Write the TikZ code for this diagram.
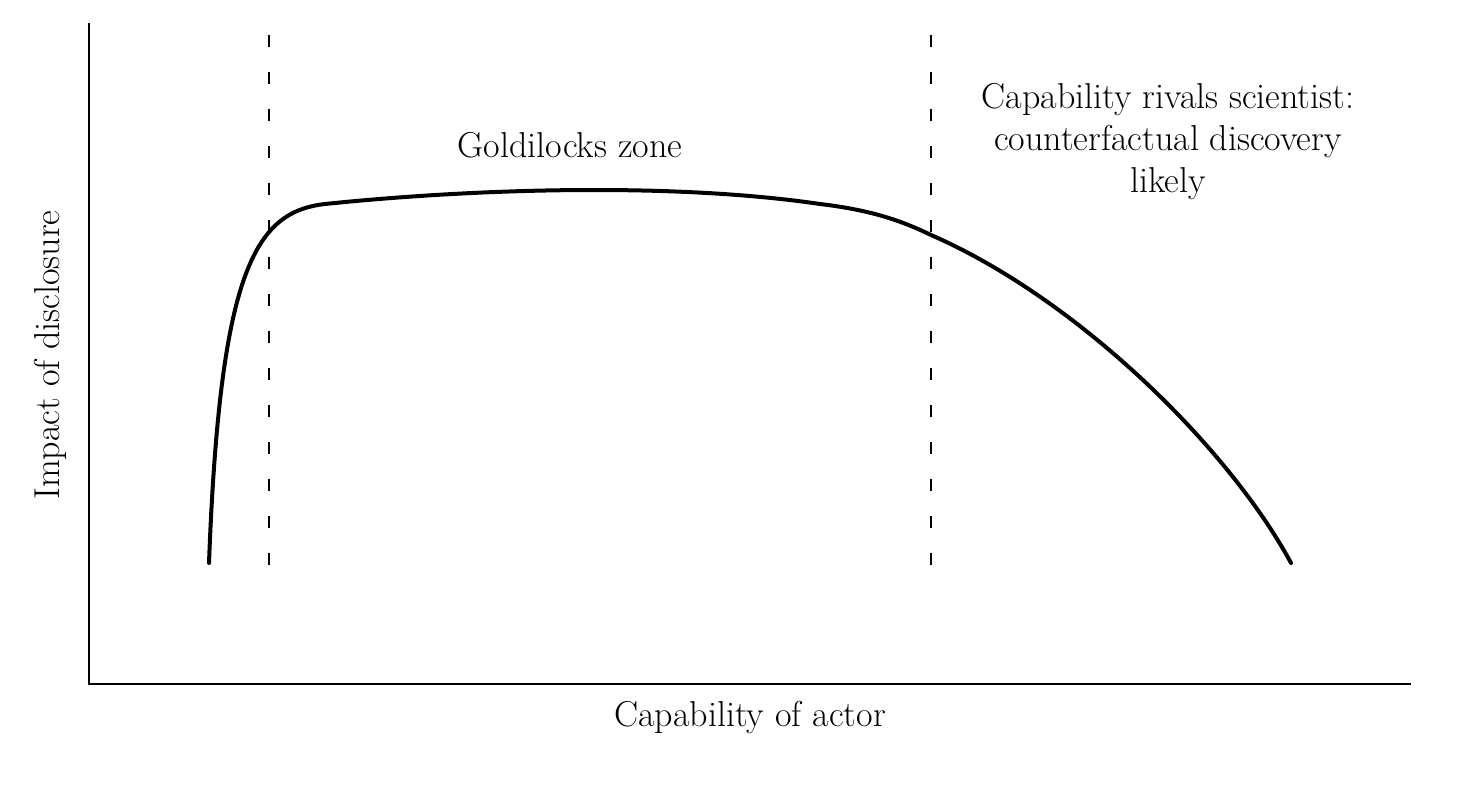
\documentclass[tikz,border=0pt]{standalone}
\usetikzlibrary{positioning}
\tikzset{
  axis/.style={line width=1pt},
  zone/.style={line width=0.9pt, dash pattern=on 6pt off 12.5pt},
  impact/.style={line width=2pt, line cap=round},
  lbl/.style={font=\fontsize{18}{21}\selectfont, align=center}
}

\begin{document}
\begin{tikzpicture}[x=0.5pt, y=-0.5pt]
\useasboundingbox (0,0) rectangle (1470,786);
\coordinate (O) at (89,684);
\coordinate (ytop) at (89,23);
\coordinate (xend) at (1411,684);
\coordinate (lo1) at (269,35);
\coordinate (lo2) at (269,588);
\coordinate (hi1) at (931,35);
\coordinate (hi2) at (931,588);

\path [draw, axis] (ytop) -- (O) -- (xend);
\path [draw, zone] (lo1) -- (lo2);
\path [draw, zone] (hi1) -- (hi2);

\coordinate (start) at (209,563);
\coordinate (flatL) at (325,204);
\coordinate (flatR) at (820,204);
\coordinate (drop) at (931,235);
\coordinate (end) at (1291,563);
\path [draw, impact] (start) .. controls (220,270) and (255,212) .. (flatL)
  .. controls (470,189) and (670,182) .. (flatR)
  .. controls (870,210) and (900,220) .. (drop)
  .. controls (1080,300) and (1230,450) .. (end);

\node (G) [lbl] at (570,145) {Goldilocks zone};
\node (R) [lbl] at (1168,142) {Capability rivals scientist:\\counterfactual discovery\\likely};
\node (X) [lbl] at (750,718) {Capability of actor};
\node (Y) [lbl, rotate=90] at (50,355) {Impact of disclosure};
\end{tikzpicture}
\end{document}
